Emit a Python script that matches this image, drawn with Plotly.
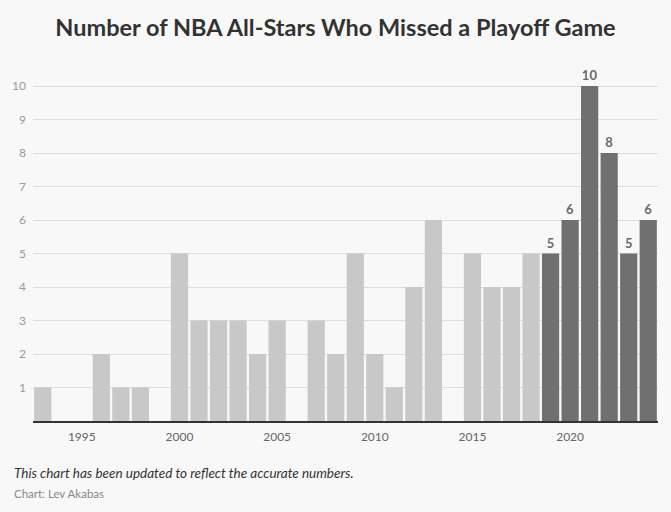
import plotly.graph_objects as go

years = list(range(1993, 2025))
counts = [1, 0, 0, 2, 1, 1, 0, 5, 3, 3, 3, 2, 3, 0, 3, 2, 5, 2, 1, 4, 6, 0,
          5, 4, 4, 5, 5, 6, 10, 8, 5, 6]
highlight_from = 2019

light = "#c8c8c8"
dark = "#707070"
colors = [dark if y >= highlight_from else light for y in years]
labels = [str(c) if y >= highlight_from else "" for y, c in zip(years, counts)]

W, H = 671, 512
ML, MR, MT, MB = 33, 13, 60, 91

fig = go.Figure()
fig.add_trace(go.Bar(
    x=years, y=counts, marker=dict(color=colors, line=dict(width=0)),
    text=labels, textposition="outside", cliponaxis=False,
    textfont=dict(family="Lato", size=13, color="#6a6a6a", weight="bold"),
    hoverinfo="skip",
))

plot_w = W - ML - MR
plot_h = H - MT - MB


def px_x(px):
    return (px - ML) / plot_w


def px_y(py):
    return (H - MB - py) / plot_h


fig.update_layout(
    width=W, height=H,
    paper_bgcolor="#f8f8f8", plot_bgcolor="#f8f8f8",
    margin=dict(l=ML, r=MR, t=MT, b=MB, autoexpand=False),
    bargap=0.12,
    showlegend=False,
    title=dict(text="<b>Number of NBA All-Stars Who Missed a Playoff Game</b>",
               x=0.5, xanchor="center", y=1 - 28 / H, yanchor="middle",
               font=dict(family="Lato", size=23.5, color="#333333")),
    xaxis=dict(range=[1992.5, 2024.5], tickvals=[1995, 2000, 2005, 2010, 2015, 2020],
               showgrid=False, zeroline=False, showline=True, linecolor="#333333",
               linewidth=1.5, ticks="", automargin=False, ticklabelstandoff=4,
               tickfont=dict(family="Lato", size=12, color="#666666")),
    yaxis=dict(range=[0, 10.78], tickvals=list(range(1, 11)),
               showgrid=True, gridcolor="#dddddd", gridwidth=1,
               zeroline=False, showline=False, automargin=False,
               ticks="", ticklabelstandoff=6,
               tickfont=dict(family="Lato", size=12, color="#999999")),
    annotations=[
        dict(text="<i>This chart has been updated to reflect the accurate numbers.</i>",
             x=px_x(12), y=px_y(473), xref="paper", yref="paper", showarrow=False,
             xanchor="left", yanchor="middle",
             font=dict(family="Lato", size=13.5, color="#333333")),
        dict(text="Chart: Lev Akabas", x=px_x(12), y=px_y(493),
             xref="paper", yref="paper", showarrow=False,
             xanchor="left", yanchor="middle",
             font=dict(family="Lato", size=11.5, color="#888888")),
    ],
)

fig.write_html(
    "out.html",
    config={"displayModeBar": False},
    post_script="document.body.style.margin='0';"
                "document.body.style.background='#f8f8f8';",
)
